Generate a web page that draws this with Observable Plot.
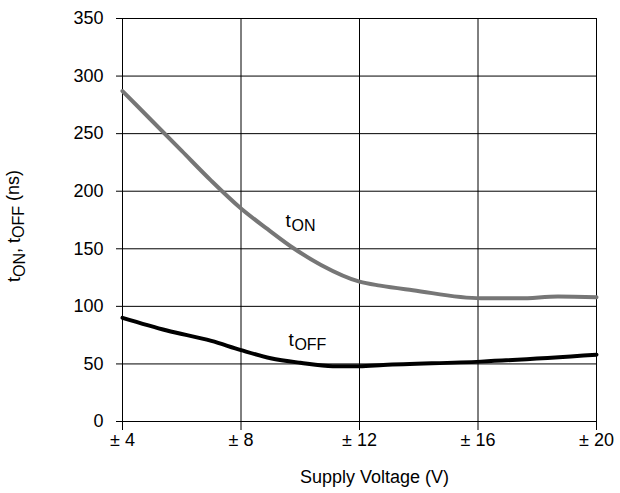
<!DOCTYPE html>
<html>
<head>
<meta charset="utf-8">
<script src="https://cdn.jsdelivr.net/npm/d3@7"></script>
<script src="https://cdn.jsdelivr.net/npm/@observablehq/plot@0.6"></script>
<style>
  html, body { margin: 0; padding: 0; background: #fff; }
  #chart { width: 620px; height: 493px; }
</style>
</head>
<body>
<div id="chart"></div>
<script>
// Supply voltage (± V) and switching times (ns)
const tonX  = [4, 5, 6, 7, 8, 8.9, 9.8, 10.7, 12, 12.7, 13.8, 16.1, 17.4, 18.7, 20];
const tonY  = [287, 261, 235, 209, 185, 167, 150, 136, 121.5, 118, 114, 107, 107, 108.5, 108];
const toffX = [4, 5.5, 7, 8, 9, 10, 11.1, 12, 12.8, 16.1, 20];
const toffY = [90, 79, 70, 62, 55, 51, 48, 48, 49, 52, 58];

const xTicks = [4, 8, 12, 16, 20];
const yTicks = [0, 50, 100, 150, 200, 250, 300, 350];
const xTitle = "Supply Voltage (V)";

// in-chart series labels: main letter + subscript
const seriesLabels = [
  {x: 9.5, y: 169, main: "t", sub: "ON"},
  {x: 9.6, y: 66,  main: "t", sub: "OFF"}
];

const ton  = tonX.map((x, i) => ({x, y: tonY[i]}));
const toff = toffX.map((x, i) => ({x, y: toffY[i]}));

const FONT = "'Liberation Sans', Arial, Helvetica, sans-serif";

const plot = Plot.plot({
  width: 620,
  height: 493,
  marginLeft: 122,
  marginRight: 24,
  marginTop: 18,
  marginBottom: 72,
  style: {fontFamily: FONT, fontSize: "18px", color: "#000", background: "#fff"},
  x: {
    domain: [4, 20],
    ticks: xTicks,
    tickSize: 9,
    tickPadding: 3,
    tickFormat: d => "± " + d,
    label: null
  },
  y: {
    domain: [0, 350],
    ticks: yTicks,
    tickSize: 6,
    tickPadding: 13,
    label: "tON, tOFF (ns)",
    labelAnchor: "center",
    labelArrow: "none",
    labelOffset: 115
  },
  marks: [
    Plot.ruleX(xTicks, {stroke: "#000", strokeWidth: 1}),
    Plot.ruleY(yTicks, {stroke: "#000", strokeWidth: 1}),
    Plot.line(ton,  {x: "x", y: "y", stroke: "#767676", strokeWidth: 4, curve: "monotone-x"}),
    Plot.line(toff, {x: "x", y: "y", stroke: "#000", strokeWidth: 4, curve: "monotone-x"}),
    Plot.text(seriesLabels, {x: "x", y: "y", text: "main", textAnchor: "start", lineAnchor: "bottom", fontSize: 19, fill: "#000"}),
    Plot.text(seriesLabels, {x: "x", y: "y", text: "sub", textAnchor: "start", lineAnchor: "bottom", dx: 6, dy: 4, fontSize: 16, fill: "#000"}),
    Plot.text([xTitle], {text: d => d, frameAnchor: "bottom", dy: 61, dx: 15, fontSize: 18, fill: "#000"})
  ]
});

// rebuild the y-axis label with subscripts
const yl = plot.querySelector('[aria-label="y-axis label"] text');
if (yl) {
  yl.textContent = "";
  const parts = [["t", 0], ["ON", 1], [", t", 0], ["OFF", 1], [" (ns)", 0]];
  let prevSub = false;
  let first = true;
  for (const [s, sub] of parts) {
    const ts = document.createElementNS("http://www.w3.org/2000/svg", "tspan");
    ts.textContent = s;
    if (first) { ts.setAttribute("dx", "-6"); first = false; }
    if (sub && !prevSub) ts.setAttribute("dy", "0.3em");
    if (!sub && prevSub) ts.setAttribute("dy", "-0.3em");
    if (sub) ts.setAttribute("font-size", "16px");
    prevSub = !!sub;
    yl.appendChild(ts);
  }
}

document.getElementById("chart").appendChild(plot);
</script>
</body>
</html>
